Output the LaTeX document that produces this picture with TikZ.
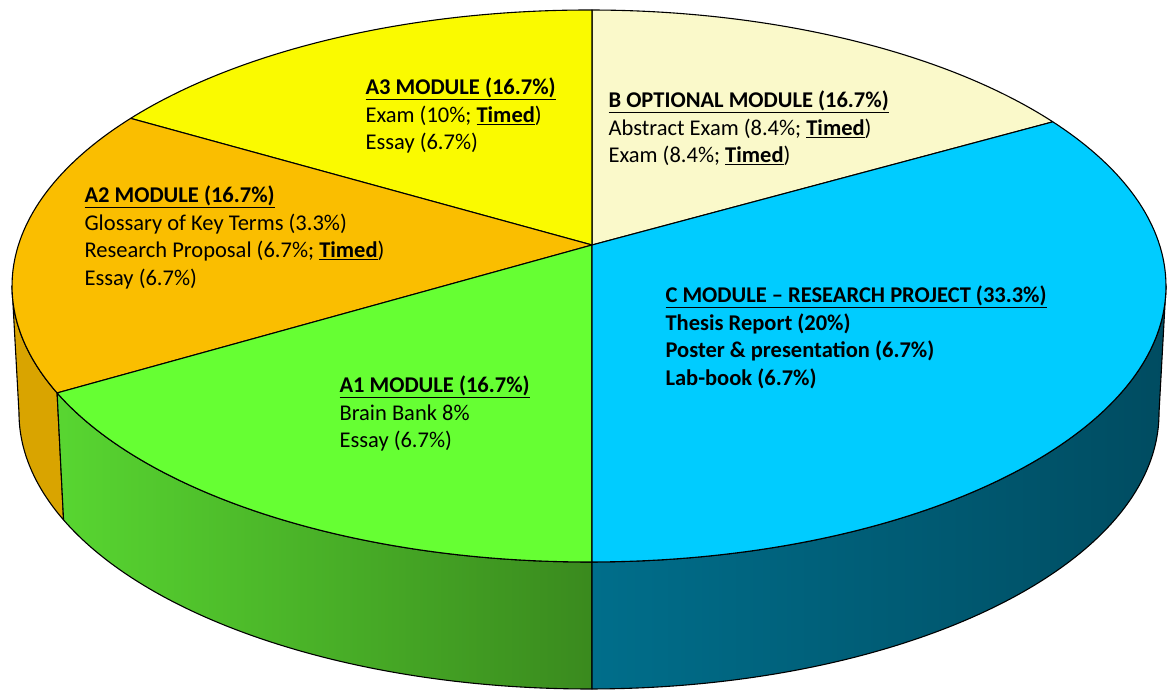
\documentclass[tikz,border=0pt]{standalone}
\usepackage{fontspec}
\setmainfont{Carlito}
\usetikzlibrary{calc}

\definecolor{secB}{HTML}{FAF9CA}
\definecolor{secAthree}{HTML}{FAFA00}
\definecolor{secAtwo}{HTML}{FABE00}
\definecolor{secAone}{HTML}{66FF33}
\definecolor{secC}{HTML}{00CCFF}
\definecolor{sideAtwo}{HTML}{D9A400}
\definecolor{sideAoneL}{HTML}{58D631}
\definecolor{sideAoneR}{HTML}{3A8A1E}
\definecolor{sideCL}{HTML}{006E8B}
\definecolor{sideCR}{HTML}{004C61}

\newcommand{\mtitle}[1]{\strut\textbf{\underline{#1}}}
\newcommand{\tmd}{\textbf{\underline{Timed}}}

\tikzset{
    every picture/.style={line width=1.1pt},
    slice/.style={draw=black,line join=round},
    modlabel/.style={anchor=north west,inner sep=0pt,align=left,
        font=\fontsize{22.5}{27.5}\selectfont}
}

\begin{document}
\begin{tikzpicture}[x=1pt,y=1pt]
    \useasboundingbox (0,0) rectangle (1168,690);
    \coordinate (ctr) at (592,445);
    \coordinate (topc) at (589,404);
    \coordinate (botc) at (589,277);

    % side walls first
    \draw[slice,fill=sideAtwo] ($(topc)+(180:577 and 276)$)
        arc[start angle=180,end angle=202.8,x radius=577,y radius=276]
        -- ($(botc)+(202.8:570 and 276)$)
        arc[start angle=202.8,end angle=180,x radius=570,y radius=276] -- cycle;
    \draw[slice,left color=sideAoneL,right color=sideAoneR] ($(topc)+(202.8:577 and 276)$)
        arc[start angle=202.8,end angle=270.3,x radius=577,y radius=276]
        -- ($(botc)+(270.3:570 and 276)$)
        arc[start angle=270.3,end angle=202.8,x radius=570,y radius=276] -- cycle;
    \draw[slice,left color=sideCL,middle color=sideCR,right color=sideCR] ($(topc)+(270.3:577 and 276)$)
        arc[start angle=270.3,end angle=360,x radius=577,y radius=276]
        -- ($(botc)+(360:570 and 276)$)
        arc[start angle=360,end angle=270.3,x radius=570,y radius=276] -- cycle;

    % top face
    \foreach \a/\b/\col in {36.5/89.7/secB,89.7/142.6/secAthree,142.6/202.8/secAtwo,
                            202.8/270.3/secAone,270.3/396.5/secC}
        \draw[slice,fill=\col] (ctr) -- ($(topc)+(\a:577 and 276)$)
            arc[start angle=\a,end angle=\b,x radius=577,y radius=276] -- cycle;

    % labels
    \node[modlabel] (lblAthree) at (365,615) {\mtitle{A3 MODULE (16.7\%)}\\
        Exam (10\%; \tmd)\\ Essay (6.7\%)};
    \node[modlabel] (lblB) at (608,602) {\mtitle{B OPTIONAL MODULE (16.7\%)}\\
        Abstract Exam (8.4\%; \tmd)\\ Exam (8.4\%; \tmd)};
    \node[modlabel] (lblAtwo) at (84,507) {\mtitle{A2 MODULE (16.7\%)}\\
        Glossary of Key Terms (3.3\%)\\ Research Proposal (6.7\%; \tmd)\\ Essay (6.7\%)};
    \node[modlabel,font=\fontsize{22.5}{27.5}\selectfont\bfseries] (lblC) at (665,407)
        {\mtitle{C MODULE -- RESEARCH PROJECT (33.3\%)}\\
        Thesis Report (20\%)\\ Poster \& presentation (6.7\%)\\ Lab-book (6.7\%)};
    \node[modlabel] (lblAone) at (339,317) {\mtitle{A1 MODULE (16.7\%)}\\
        Brain Bank 8\%\\ Essay (6.7\%)};
\end{tikzpicture}
\end{document}
